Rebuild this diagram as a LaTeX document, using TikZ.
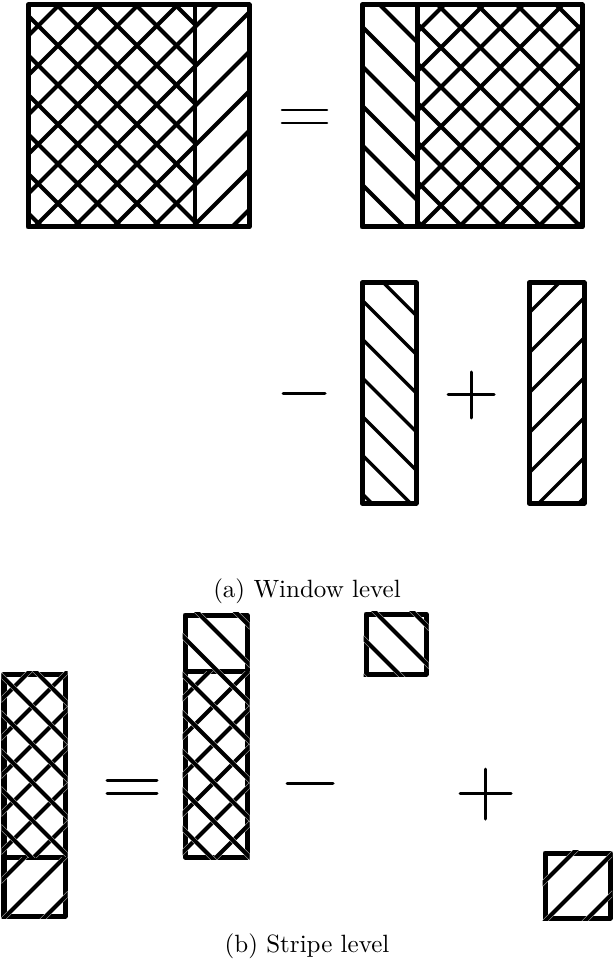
\documentclass[tikz,border=0pt]{standalone}
\tikzset{
  frame/.style={line width=2pt, line join=round, draw=black},
  divider/.style={line width=1.8pt, draw=black},
  hatchline/.style={line width=1.6pt, draw=black},
  thinhatch/.style={line width=1.35pt, draw=black},
  halo/.style={line width=1.9pt, draw=white},
  symb/.style={line width=1.2pt, draw=black, line cap=round},
  thinsymb/.style={line width=1.05pt, draw=black, line cap=round},
}
% "/" hatch: lines x+y=c, clipped to rectangle
\newcommand\hatchNE[7]{%
  \begin{scope}
    \clip (#1,#2) rectangle (#3,#4);
    \foreach \k in {-12,...,12}{
      \pgfmathsetmacro\cc{#5+#6*\k}
      \draw[#7] (\cc-#2+60,#2-60) -- (\cc-#4-60,#4+60);
    }
  \end{scope}}
% "\" hatch: lines x-y=c, clipped to rectangle
\newcommand\hatchNW[7]{%
  \begin{scope}
    \clip (#1,#2) rectangle (#3,#4);
    \foreach \k in {-12,...,12}{
      \pgfmathsetmacro\cc{#5+#6*\k}
      \draw[#7] (\cc+#2-60,#2-60) -- (\cc+#4+60,#4+60);
    }
  \end{scope}}
\begin{document}
\begin{tikzpicture}[x=0.4pt,y=-0.4pt]
\useasboundingbox (0,0) rectangle (612,964);
\fill[white] (0,0) rectangle (612,964);

% ---------- (a) Window level ----------
% top-left square
\hatchNE{28}{5}{249}{227}{64}{39.5}{hatchline}
\hatchNW{28}{5}{195}{227}{52}{39.5}{hatchline}
\draw[frame] (28,5) rectangle (249,227);
\draw[divider] (195,5) -- (195,227);

% equals
\draw[thinsymb] (282,110) -- (327,110);
\draw[thinsymb] (282,123) -- (327,123);

% top-right square
\hatchNW{362}{5}{417}{227}{375}{39.5}{hatchline}
\hatchNE{417}{5}{582}{227}{449}{39.5}{hatchline}
\hatchNW{417}{5}{582}{227}{433}{39.5}{hatchline}
\draw[frame] (362,5) rectangle (582,227);
\draw[frame] (417,5) -- (417,227);

% minus
\draw[symb] (283,394) -- (325,394);
% tall rect "\"
\hatchNW{362}{283}{416}{503}{62}{38.7}{thinhatch}
\draw[frame] (362,283) rectangle (416,503);
% plus
\draw[symb] (448,395) -- (494,395);
\draw[symb] (471,372) -- (471,418);
% tall rect "/"
\hatchNE{529}{283}{584}{503}{842}{40}{thinhatch}
\draw[frame] (529,283) rectangle (584,503);

\node (capa) at (307,591) {(a) Window level};

% ---------- (b) Stripe level ----------
% left tall rect
\draw[frame] (4,674) rectangle (65,916);
\draw[frame] (4,857) -- (65,857);
\hatchNE{1.5}{671.5}{67.5}{857}{701}{38}{halo}
\hatchNE{1.5}{671.5}{67.5}{857}{701}{38}{hatchline}
\hatchNW{1.5}{671.5}{67.5}{857}{-674}{38}{halo}
\hatchNW{1.5}{671.5}{67.5}{857}{-674}{38}{hatchline}
\hatchNE{1.5}{857}{67.5}{918.5}{882}{40}{halo}
\hatchNE{1.5}{857}{67.5}{918.5}{882}{40}{hatchline}

% equals
\draw[symb] (107,780) -- (157,780);
\draw[symb] (107,793) -- (157,793);

% middle tall rect
\draw[frame] (185,615) rectangle (247,857);
\draw[frame] (185,671) -- (247,671);
\hatchNE{182.5}{671}{249.5}{859.5}{881}{38.5}{halo}
\hatchNE{182.5}{671}{249.5}{859.5}{881}{38.5}{hatchline}
\hatchNW{182.5}{612.5}{249.5}{859.5}{-415}{38.5}{halo}
\hatchNW{182.5}{612.5}{249.5}{859.5}{-415}{38.5}{hatchline}

% minus
\draw[symb] (287,783) -- (333,783);

% small top square
\draw[frame] (366,614) rectangle (426,674);
\hatchNW{363.5}{611.5}{428.5}{676.5}{-237}{38}{halo}
\hatchNW{363.5}{611.5}{428.5}{676.5}{-237}{38}{hatchline}

% plus
\draw[symb] (460,793) -- (511,793);
\draw[symb] (485,769) -- (485,819);

% small bottom square
\draw[frame] (545,853) rectangle (610,918);
\hatchNE{542.5}{850.5}{612}{920.5}{1466}{40}{halo}
\hatchNE{542.5}{850.5}{612}{920.5}{1466}{40}{hatchline}

\node (capb) at (307,946) {(b) Stripe level};
\end{tikzpicture}
\end{document}
